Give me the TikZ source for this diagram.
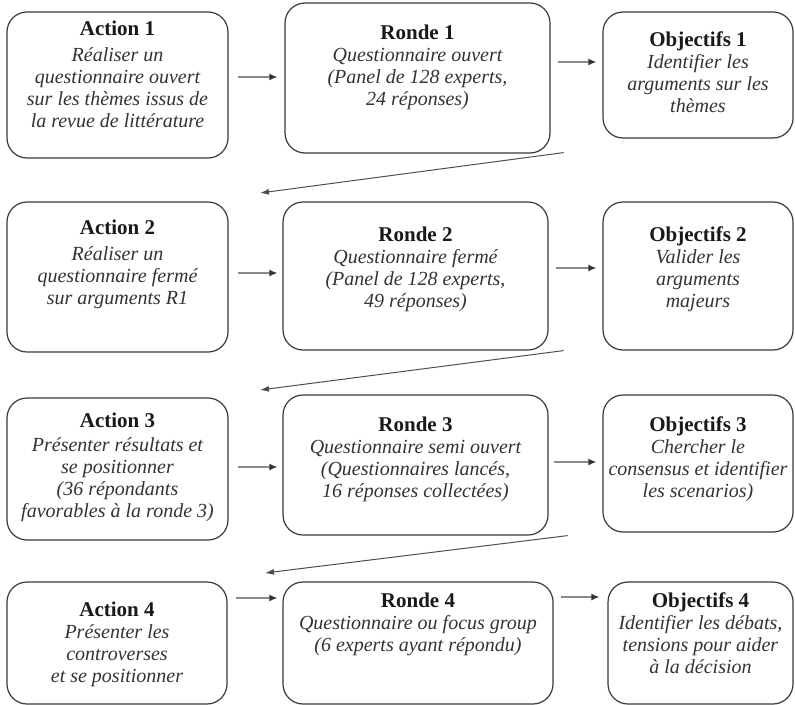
\documentclass[tikz,border=0pt]{standalone}
\usepackage{fontspec}
\setmainfont{Liberation Serif}
\usetikzlibrary{arrows.meta,calc}
\definecolor{edge}{HTML}{3A3A3A}
\definecolor{txtgray}{HTML}{333333}
\definecolor{arrgray}{HTML}{8A8A8A}
\newcommand{\ttl}[1]{{\normalfont\bfseries\fontsize{21}{22}\selectfont\color{black!90}#1}}
\tikzset{
  box/.style={draw=edge, line width=1.2pt, rounded corners=20pt, fill=white, inner sep=0pt},
  txt/.style={anchor=north, align=center, inner sep=0pt, text=txtgray,
              font=\itshape\fontsize{20}{22}\selectfont},
  harrow/.style={draw=arrgray, line width=1.5pt, -{Latex[length=8pt,width=7pt,color=black!80]}},
  darrow/.style={draw=edge!90, line width=1pt, -{Latex[length=9pt,width=6pt]}}
}
\begin{document}
\begin{tikzpicture}[x=1pt,y=-1pt]
\useasboundingbox (0,0) rectangle (795,704);

% Row 1
\node[box, minimum width=221pt, minimum height=146pt] (a1) at (117.5,85) {};
\node[box, minimum width=265pt, minimum height=150pt] (r1) at (417.5,78) {};
\node[box, minimum width=190pt, minimum height=126pt] (o1) at (698,75) {};
\node[txt] (a1t) at (117.5,21) {\ttl{Action 1}\\[4pt]Réaliser un\\questionnaire ouvert\\sur les thèmes issus de\\la revue de littérature};
\node[txt] (r1t) at (417.5,25) {\ttl{Ronde 1}\\Questionnaire ouvert\\(Panel de 128 experts,\\24 réponses)};
\node[txt] (o1t) at (698,32) {\ttl{Objectifs 1}\\Identifier les\\arguments sur les\\thèmes};

% Row 2
\node[box, minimum width=221pt, minimum height=150pt] (a2) at (117.5,277) {};
\node[box, minimum width=265pt, minimum height=148pt] (r2) at (415.5,276) {};
\node[box, minimum width=190pt, minimum height=148pt] (o2) at (698,276) {};
\node[txt] (a2t) at (117.5,220) {\ttl{Action 2}\\[4pt]Réaliser un\\questionnaire fermé\\sur arguments R1};
\node[txt] (r2t) at (415.5,227) {\ttl{Ronde 2}\\Questionnaire fermé\\(Panel de 128 experts,\\49 réponses)};
\node[txt] (o2t) at (698,227) {\ttl{Objectifs 2}\\Valider les\\arguments\\majeurs};

% Row 3
\node[box, minimum width=221pt, minimum height=142pt] (a3) at (117.5,469) {};
\node[box, minimum width=265pt, minimum height=140pt] (r3) at (415.5,465) {};
\node[box, minimum width=190pt, minimum height=137pt] (o3) at (698,463.5) {};
\node[txt] (a3t) at (117.5,413) {\ttl{Action 3}\\[2pt]Présenter résultats et\\se positionner\\(36 répondants\\favorables à la ronde 3)};
\node[txt] (r3t) at (415.5,417) {\ttl{Ronde 3}\\Questionnaire semi ouvert\\(Questionnaires lancés,\\16 réponses collectées)};
\node[txt] (o3t) at (698,417) {\ttl{Objectifs 3}\\Chercher le\\consensus et identifier\\les scenarios)};

% Row 4
\node[box, minimum width=220pt, minimum height=122pt] (a4) at (117,643) {};
\node[box, minimum width=270pt, minimum height=122pt] (r4) at (418,643) {};
\node[box, minimum width=185pt, minimum height=122pt] (o4) at (700.5,643) {};
\node[txt] (a4t) at (117,602) {\ttl{Action 4}\\Présenter les\\controverses\\et se positionner};
\node[txt] (r4t) at (418,593) {\ttl{Ronde 4}\\Questionnaire ou focus group\\(6 experts ayant répondu)};
\node[txt] (o4t) at (700.5,593) {\ttl{Objectifs 4}\\Identifier les débats,\\tensions pour aider\\à la décision};

% Horizontal arrows
\draw[harrow] ($(a1.east)+(9,-8)$) -- ($(r1.west)+(-7,-1)$);
\draw[harrow] ($(r1.east)+(7,-16)$) -- ($(o1.west)+(-6,-13)$);
\draw[harrow] ($(a2.east)+(9,-4)$) -- ($(r2.west)+(-5,-3)$);
\draw[harrow] ($(r2.east)+(7,-8)$) -- ($(o2.west)+(-6,-8)$);
\draw[harrow] ($(a3.east)+(9,-2)$) -- ($(r3.west)+(-5,2)$);
\draw[harrow] ($(r3.east)+(5,-3)$) -- ($(o3.west)+(-6,-1.5)$);
\draw[harrow] ($(a4.east)+(8,-45)$) -- ($(r4.west)+(-5,-45)$);
\draw[harrow] ($(r4.east)+(7,-46)$) -- ($(o4.west)+(-8,-46)$);

% Diagonal return arrows
\coordinate (d1s) at ($(r1.south east)+(13,-1)$);
\coordinate (d1e) at (260,193);
\draw[darrow] (d1s) -- (d1e);
\coordinate (d2s) at ($(r2.south east)+(15,0)$);
\coordinate (d2e) at (260,390);
\draw[darrow] (d2s) -- (d2e);
\coordinate (d3s) at ($(r3.south east)+(19,0)$);
\coordinate (d3e) at (265,573);
\draw[darrow] (d3s) -- (d3e);
\end{tikzpicture}
\end{document}
